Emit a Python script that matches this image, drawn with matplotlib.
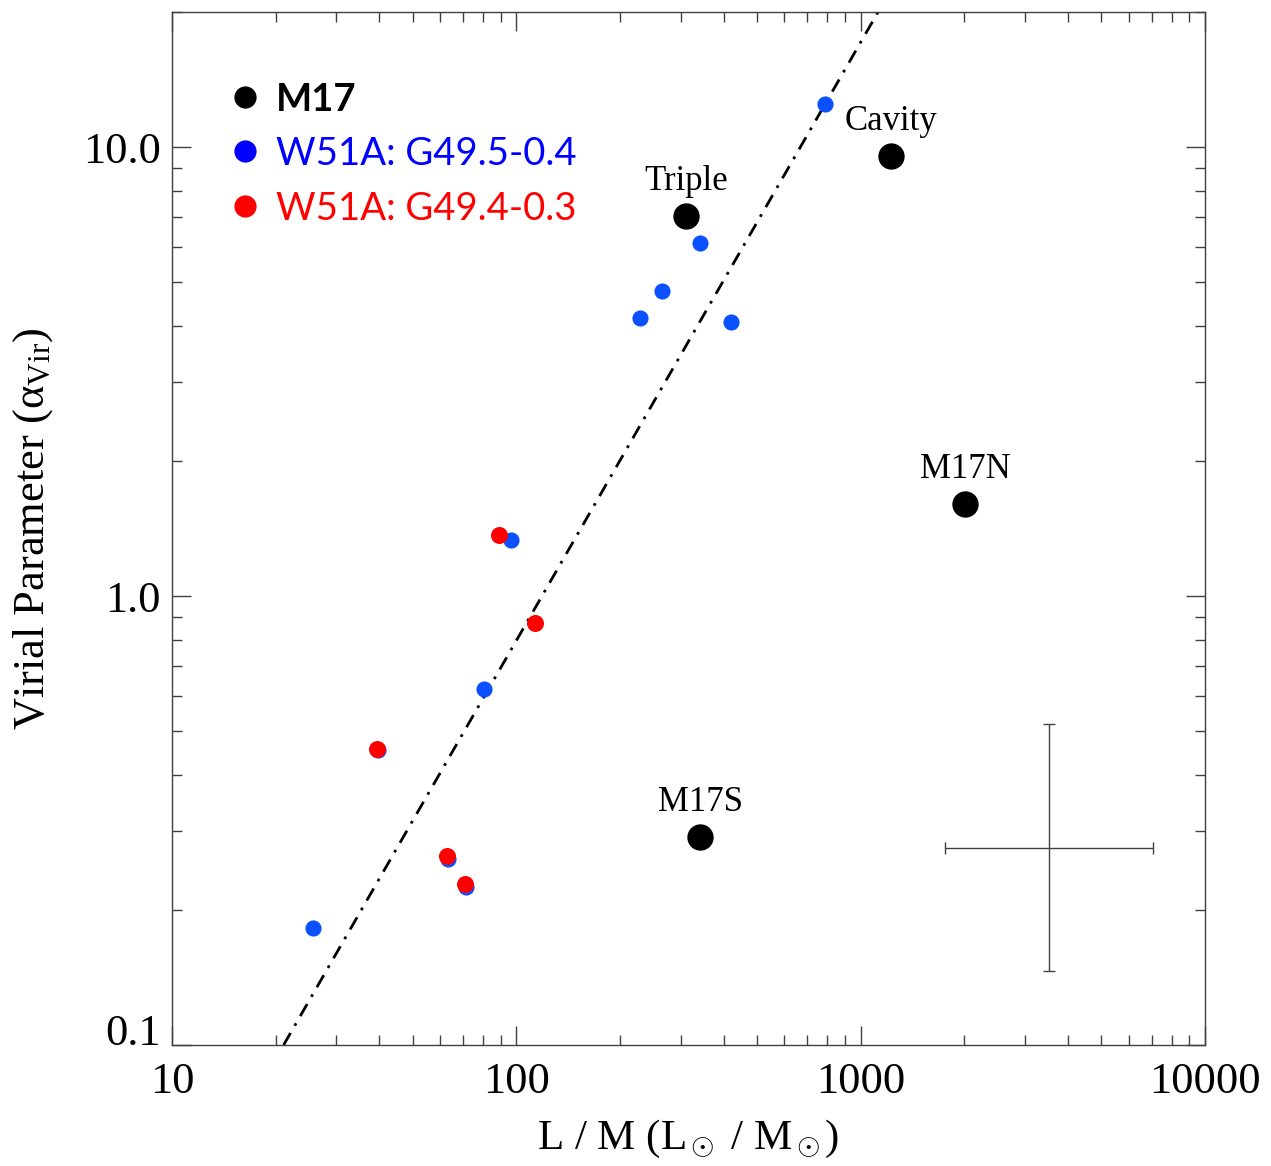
import numpy as np
from matplotlib import pyplot as plt
from matplotlib import transforms
from matplotlib.lines import Line2D
from matplotlib.ticker import FixedLocator, FuncFormatter, LogLocator, NullFormatter

# M17 regions
m17_names = ["Triple", "Cavity", "M17N", "M17S"]
m17_lm = [311, 1225, 2010, 342]
m17_avir = [7.02, 9.55, 1.60, 0.290]

# W51A: G49.5-0.4
g495_lm = [788, 342, 265, 229, 421, 96.6, 80.5, 39.6, 63.2, 71.3, 25.7]
g495_avir = [12.5, 6.11, 4.77, 4.16, 4.07, 1.33, 0.621, 0.454, 0.260, 0.225, 0.182]

# W51A: G49.4-0.3
g494_lm = [89.1, 113, 39.4, 63.0, 71.0]
g494_avir = [1.37, 0.871, 0.456, 0.264, 0.228]

# dash-dot trend line (end points)
fit_lm = [21.1, 1124]
fit_avir = [0.1, 20.0]

# typical uncertainty cross
err_lm, err_lm_lo, err_lm_hi = 3524, 1758, 7063
err_avir, err_avir_lo, err_avir_hi = 0.275, 0.146, 0.519

plt.rcParams["font.family"] = ["Liberation Serif", "DejaVu Serif"]
plt.rcParams["mathtext.fontset"] = "custom"
plt.rcParams["mathtext.rm"] = "Liberation Serif"
plt.rcParams["mathtext.it"] = "Liberation Serif:italic"

axis_col = "#404040"
fig = plt.figure(figsize=(12.71, 11.66), dpi=100)
ax = fig.add_axes([0.1353, 0.1038, 0.8127, 0.8859])
ax.set_xscale("log")
ax.set_yscale("log")
ax.set_xlim(10, 10000)
ax.set_ylim(0.1, 20)

ax.plot(fit_lm, fit_avir, color="black", lw=2.0, dashes=[5, 3, 1, 3], zorder=2)

ax.errorbar([err_lm], [err_avir],
            xerr=[[err_lm - err_lm_lo], [err_lm_hi - err_lm]],
            yerr=[[err_avir - err_avir_lo], [err_avir_hi - err_avir]],
            fmt="none", ecolor=axis_col, elinewidth=1.0, capsize=4.5, capthick=1.0)

ax.scatter(g495_lm, g495_avir, s=135, color="#0a50ff", lw=0, zorder=3)
ax.scatter(g494_lm, g494_avir, s=150, color="#ff0000", lw=0, zorder=4)
ax.scatter(m17_lm, m17_avir, s=360, color="black", lw=0, zorder=5)

for name, x, y in zip(m17_names, m17_lm, m17_avir):
    ax.annotate(name, (x, y), xytext=(0, 25), textcoords="offset points",
                ha="center", va="center", fontsize=25)

ax.xaxis.set_major_locator(FixedLocator([10, 100, 1000, 10000]))
ax.xaxis.set_minor_locator(LogLocator(base=10, subs=np.arange(2, 10)))
ax.xaxis.set_minor_formatter(NullFormatter())
ax.xaxis.set_major_formatter(FuncFormatter(lambda v, p: f"{v:.0f}"))
ax.yaxis.set_major_locator(FixedLocator([0.1, 1.0, 10.0]))
ax.yaxis.set_minor_locator(LogLocator(base=10, subs=np.arange(2, 10)))
ax.yaxis.set_minor_formatter(NullFormatter())
ax.yaxis.set_major_formatter(FuncFormatter(lambda v, p: f"{v:.1f}"))

ax.tick_params(which="both", direction="in", top=True, right=True,
               color=axis_col, width=1.0, labelsize=32)
ax.tick_params(which="major", length=14)
ax.tick_params(which="minor", length=7)
ax.tick_params(axis="x", which="major", pad=12)
ax.tick_params(axis="y", which="major", pad=8)
for sp in ax.spines.values():
    sp.set_color(axis_col)
    sp.set_linewidth(1.0)

ax.set_xlabel(r"L / M (L$_\odot$ / M$_\odot$)", fontsize=31, labelpad=12)
ax.set_ylabel(r"Virial Parameter (α$_{\rm Vir}$)", fontsize=32, labelpad=20)

# lowest y label sits on the axis line, as in the original
fig.canvas.draw()
lbl = ax.yaxis.get_majorticklabels()[0]
lbl.set_transform(lbl.get_transform() + transforms.ScaledTranslation(0, 11 / 72, fig.dpi_scale_trans))

handles = [
    Line2D([], [], ls="none", marker="o", ms=16, mfc="black", mec="none"),
    Line2D([], [], ls="none", marker="o", ms=16, mfc="#0000ff", mec="none"),
    Line2D([], [], ls="none", marker="o", ms=16, mfc="#ff0000", mec="none"),
]
labels = ["M17", "W51A: G49.5-0.4", "W51A: G49.4-0.3"]
leg = ax.legend(handles, labels, loc="upper left", bbox_to_anchor=(0.019, 0.965),
                frameon=False, handlelength=1.0, handletextpad=0.3,
                labelspacing=0.5, prop={"family": "Lato", "size": 27.5})
for t, c in zip(leg.get_texts(), ["black", "#0000ff", "#ff0000"]):
    t.set_color(c)
leg.get_texts()[0].set_fontweight("bold")

fig.savefig("out.png", dpi=100)
